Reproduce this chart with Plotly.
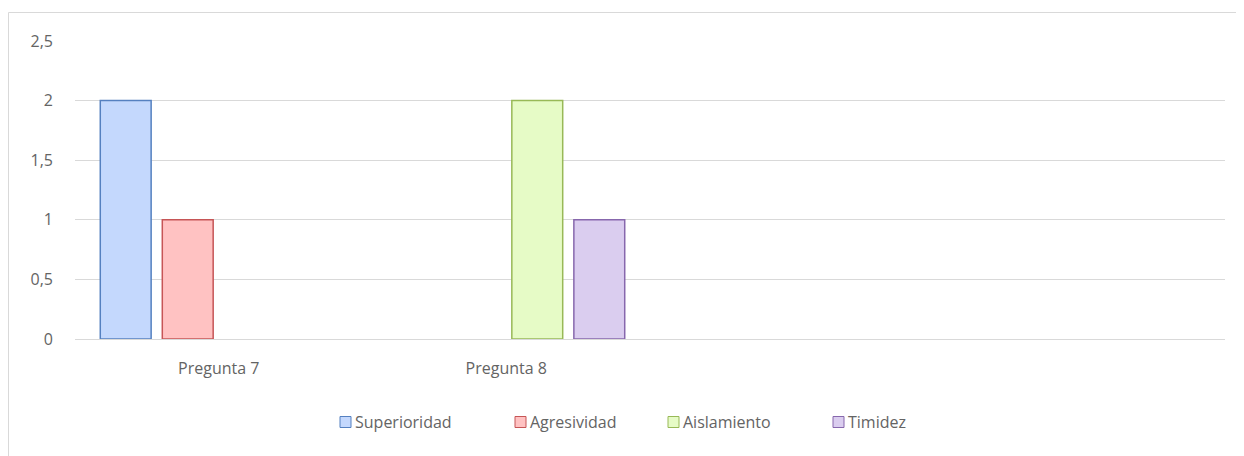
import plotly.graph_objects as go

categories = ["Pregunta 7", "Pregunta 8"]
series_names = ["Superioridad", "Agresividad", "Aislamiento", "Timidez"]
superioridad = [2, None]
agresividad = [1, None]
aislamiento = [None, 2]
timidez = [None, 1]
y_ticks = [0, 0.5, 1, 1.5, 2, 2.5]
y_tick_labels = ["0", "0,5", "1", "1,5", "2", "2,5"]

fills = ["#c4d8fd", "#ffc2c2", "#e6fbc6", "#dacdef"]
edges = ["#5580c0", "#c65556", "#98b957", "#8767ad"]
values = [superioridad, agresividad, aislamiento, timidez]

FONT = "Open Sans, Liberation Sans, sans-serif"
TXT = "#646464"

fig = go.Figure()
for name, vals, fc, ec in zip(series_names, values, fills, edges):
    fig.add_trace(go.Bar(
        x=categories, y=vals, name=name, showlegend=False,
        marker=dict(color=fc, line=dict(color=ec, width=1.5)),
    ))

# page has an 8px body margin; work in page pixel coordinates
OFF = 8
W, H = 1236, 448
L, R, T, B = 67, 19, 33, 117
pw, ph = W - L - R, H - T - B

def px(x):
    return (x - OFF - L) / pw

def py(y):
    return (H - B - (y - OFF)) / ph

shapes = [dict(type="rect", xref="paper", yref="paper",
               x0=px(8.5), x1=px(1260), y0=py(12.5), y1=py(480),
               line=dict(color="#d9d9d9", width=1), fillcolor="rgba(0,0,0,0)", layer="below")]
annotations = []
legend_sym_x = [340, 515, 668, 833]
legend_y = 422
for name, fc, ec, sx in zip(series_names, fills, edges, legend_sym_x):
    shapes.append(dict(type="rect", xref="paper", yref="paper",
                       x0=px(sx), x1=px(sx + 11), y0=py(legend_y - 5.5), y1=py(legend_y + 5.5),
                       line=dict(color=ec, width=1), fillcolor=fc))
    annotations.append(dict(text=name, xref="paper", yref="paper", x=px(sx + 13), y=py(legend_y),
                            xanchor="left", yanchor="middle", showarrow=False,
                            font=dict(family=FONT, size=16, color=TXT)))

fig.update_layout(
    width=W, height=H,
    margin=dict(l=L, r=R, t=T, b=B),
    paper_bgcolor="white", plot_bgcolor="white",
    barmode="group", bargap=0.137, bargroupgap=0.18,
    separators=",.",
    font=dict(family=FONT, size=16, color=TXT),
    showlegend=False,
    xaxis=dict(type="category", range=[-0.5, 3.5], showgrid=False, showline=True,
               linecolor="#d9d9d9", linewidth=1, ticks="", ticklabelstandoff=15,
               tickfont=dict(family=FONT, size=16, color=TXT)),
    yaxis=dict(range=[0, 2.5], tickvals=y_ticks, ticktext=y_tick_labels,
               showgrid=True, gridcolor="#d9d9d9", gridwidth=1, zeroline=False,
               showline=False, ticks="", ticklabelstandoff=21,
               tickfont=dict(family=FONT, size=16, color=TXT)),
    shapes=shapes,
    annotations=annotations,
)

fig.write_html("out.html")
